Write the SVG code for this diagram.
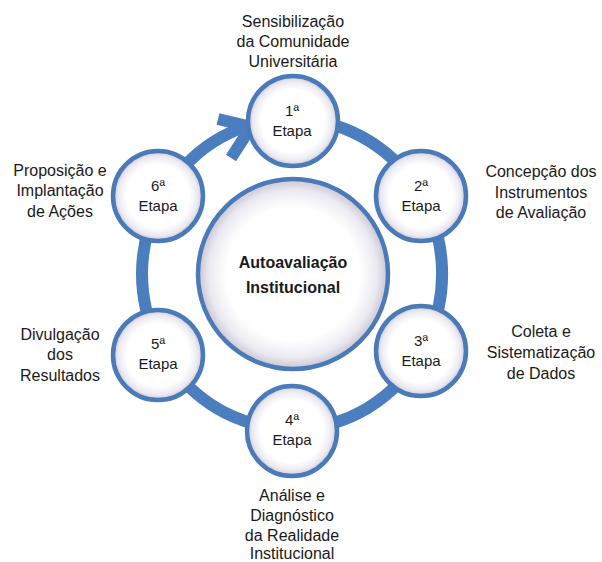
<svg xmlns="http://www.w3.org/2000/svg" width="602" height="562" viewBox="0 0 602 562">
<defs>
<radialGradient id="fill" cx="50%" cy="50%" r="50%">
<stop offset="0" stop-color="#ffffff"/>
<stop offset="0.7" stop-color="#ffffff"/>
<stop offset="0.88" stop-color="#eceaf1"/>
<stop offset="1" stop-color="#c9c5d4"/>
</radialGradient>
</defs>
<style>
.node{fill:url(#fill);stroke:#4a7ab8;stroke-width:4.5}
.ring{fill:none;stroke:#4a7ebf;stroke-width:12}
.t{font-family:"Liberation Sans",Arial,sans-serif;font-size:16px;fill:#1a1a1a;text-anchor:middle}
.e{font-family:"Liberation Sans",Arial,sans-serif;font-size:15px;fill:#1a1a1a;text-anchor:middle}
.c{font-family:"Liberation Sans",Arial,sans-serif;font-size:16px;font-weight:bold;fill:#1a1a1a;text-anchor:middle}
</style>
<rect width="602" height="562" fill="#ffffff"/>
<g id="connectors">
<path class="ring" d="M292,119 A150,155 0 1 1 253.2,124.3"/>
<polyline class="ring" points="218,119 251,127 231,158" stroke-linejoin="miter" stroke-linecap="butt"/>
</g>
<g id="center">
<circle class="node" cx="293" cy="274" r="95"/>
<text class="c" x="293" y="268">Autoavaliação</text>
<text class="c" x="293" y="293">Institucional</text>
</g>
<g id="etapa1">
<circle class="node" cx="293" cy="121" r="45"/>
<text class="e" x="292" y="116">1ª</text>
<text class="e" x="292" y="136">Etapa</text>
<text class="t" x="293" y="27">Sensibilização</text>
<text class="t" x="293" y="47">da Comunidade</text>
<text class="t" x="293" y="67">Universitária</text>
</g>
<g id="etapa2">
<circle class="node" cx="421" cy="196" r="45"/>
<text class="e" x="421" y="191">2ª</text>
<text class="e" x="421" y="211">Etapa</text>
<text class="t" x="541" y="177">Concepção dos</text>
<text class="t" x="541" y="198">Instrumentos</text>
<text class="t" x="541" y="218">de Avaliação</text>
</g>
<g id="etapa3">
<circle class="node" cx="421" cy="351" r="45"/>
<text class="e" x="421" y="346">3ª</text>
<text class="e" x="421" y="366">Etapa</text>
<text class="t" x="541" y="337">Coleta e</text>
<text class="t" x="541" y="358">Sistematização</text>
<text class="t" x="541" y="379">de Dados</text>
</g>
<g id="etapa4">
<circle class="node" cx="292" cy="431" r="45"/>
<text class="e" x="292" y="425">4ª</text>
<text class="e" x="292" y="445">Etapa</text>
<text class="t" x="292" y="501">Análise e</text>
<text class="t" x="292" y="521">Diagnóstico</text>
<text class="t" x="292" y="541">da Realidade</text>
<text class="t" x="292" y="559">Institucional</text>
</g>
<g id="etapa5">
<circle class="node" cx="158" cy="355" r="45"/>
<text class="e" x="158" y="349">5ª</text>
<text class="e" x="158" y="369">Etapa</text>
<text class="t" x="60" y="340">Divulgação</text>
<text class="t" x="60" y="360">dos</text>
<text class="t" x="60" y="381">Resultados</text>
</g>
<g id="etapa6">
<circle class="node" cx="158" cy="196" r="45"/>
<text class="e" x="158" y="191">6ª</text>
<text class="e" x="158" y="211">Etapa</text>
<text class="t" x="60" y="176">Proposição e</text>
<text class="t" x="60" y="196">Implantação</text>
<text class="t" x="60" y="217">de Ações</text>
</g>
</svg>
